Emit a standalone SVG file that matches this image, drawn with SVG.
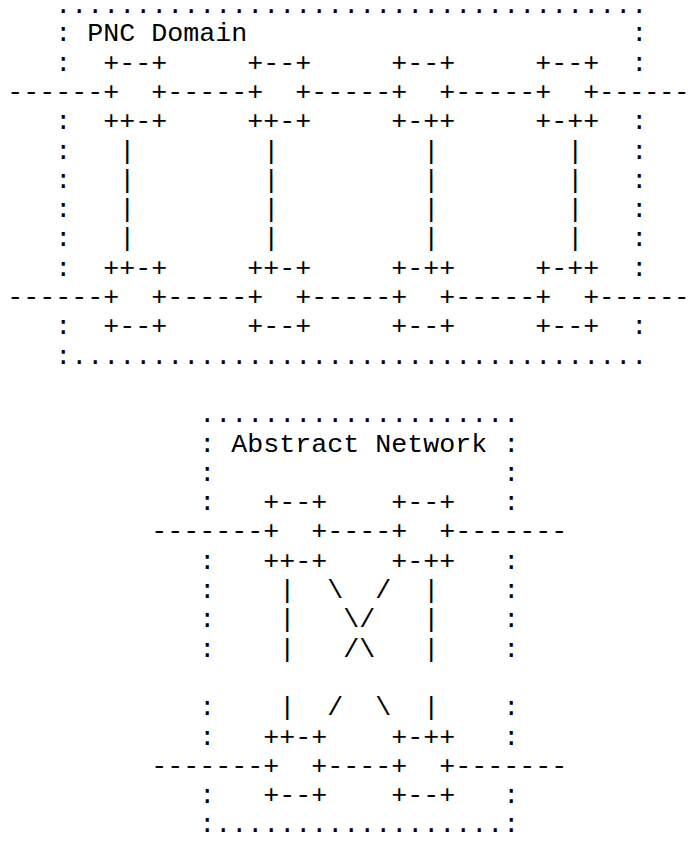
<svg xmlns="http://www.w3.org/2000/svg" width="690" height="841" viewBox="0 0 690 841">
<style>
text{font-family:"Liberation Mono","DejaVu Sans Mono",monospace;font-size:26.67px;fill:#000;white-space:pre}
</style>
<rect width="690" height="841" fill="#fff"/>
<g id="pnc-domain">
<text x="55.3" y="12.5">.....................................</text>
<text x="55.3" y="41.3">:</text><text x="87.3" y="41.3">PNC Domain</text><text x="631.3" y="41.3">:</text>
<text x="55.3" y="70.6">:</text><text x="631.3" y="70.6">:</text>
<text x="55.3" y="129.2">:</text><text x="631.3" y="129.2">:</text>
<text x="55.3" y="158.5">:</text><text x="631.3" y="158.5">:</text>
<text x="55.3" y="187.8">:</text><text x="631.3" y="187.8">:</text>
<text x="55.3" y="217.1">:</text><text x="631.3" y="217.1">:</text>
<text x="55.3" y="246.4">:</text><text x="631.3" y="246.4">:</text>
<text x="55.3" y="275.7">:</text><text x="631.3" y="275.7">:</text>
<text x="55.3" y="334.3">:</text><text x="631.3" y="334.3">:</text>
<text x="55.3" y="363.6">:....................................</text>
</g>
<g id="pnc-node-t1"><text x="103.3" y="70.6">+--+</text><text x="103.3" y="99.9">+</text><text x="151.3" y="99.9">+</text><text x="103.3" y="129.2">++-+</text></g>
<g id="pnc-node-t2"><text x="247.3" y="70.6">+--+</text><text x="247.3" y="99.9">+</text><text x="295.3" y="99.9">+</text><text x="247.3" y="129.2">++-+</text></g>
<g id="pnc-node-t3"><text x="391.3" y="70.6">+--+</text><text x="391.3" y="99.9">+</text><text x="439.3" y="99.9">+</text><text x="391.3" y="129.2">+-++</text></g>
<g id="pnc-node-t4"><text x="535.3" y="70.6">+--+</text><text x="535.3" y="99.9">+</text><text x="583.3" y="99.9">+</text><text x="535.3" y="129.2">+-++</text></g>
<g id="pnc-node-b1"><text x="103.3" y="275.7">++-+</text><text x="103.3" y="305">+</text><text x="151.3" y="305">+</text><text x="103.3" y="334.3">+--+</text></g>
<g id="pnc-node-b2"><text x="247.3" y="275.7">++-+</text><text x="247.3" y="305">+</text><text x="295.3" y="305">+</text><text x="247.3" y="334.3">+--+</text></g>
<g id="pnc-node-b3"><text x="391.3" y="275.7">+-++</text><text x="391.3" y="305">+</text><text x="439.3" y="305">+</text><text x="391.3" y="334.3">+--+</text></g>
<g id="pnc-node-b4"><text x="535.3" y="275.7">+-++</text><text x="535.3" y="305">+</text><text x="583.3" y="305">+</text><text x="535.3" y="334.3">+--+</text></g>
<g id="abstract-network">
<text x="199.3" y="422.2">....................</text>
<text x="199.3" y="451.5">:</text><text x="231.3" y="451.5">Abstract Network</text><text x="503.3" y="451.5">:</text>
<text x="199.3" y="480.8">:</text><text x="503.3" y="480.8">:</text>
<text x="199.3" y="510.1">:</text><text x="503.3" y="510.1">:</text>
<text x="199.3" y="568.7">:</text><text x="503.3" y="568.7">:</text>
<text x="199.3" y="598">:</text><text x="503.3" y="598">:</text>
<text x="199.3" y="627.3">:</text><text x="503.3" y="627.3">:</text>
<text x="199.3" y="656.6">:</text><text x="503.3" y="656.6">:</text>
<text x="199.3" y="715.2">:</text><text x="503.3" y="715.2">:</text>
<text x="199.3" y="744.5">:</text><text x="503.3" y="744.5">:</text>
<text x="199.3" y="803.1">:</text><text x="503.3" y="803.1">:</text>
<text x="199.3" y="832.4">:..................:</text>
</g>
<g id="abs-node-1"><text x="263.3" y="510.1">+--+</text><text x="263.3" y="539.4">+</text><text x="311.3" y="539.4">+</text><text x="263.3" y="568.7">++-+</text></g>
<g id="abs-node-2"><text x="391.3" y="510.1">+--+</text><text x="391.3" y="539.4">+</text><text x="439.3" y="539.4">+</text><text x="391.3" y="568.7">+-++</text></g>
<g id="abs-node-3"><text x="263.3" y="744.5">++-+</text><text x="263.3" y="773.8">+</text><text x="311.3" y="773.8">+</text><text x="263.3" y="803.1">+--+</text></g>
<g id="abs-node-4"><text x="391.3" y="744.5">+-++</text><text x="391.3" y="773.8">+</text><text x="439.3" y="773.8">+</text><text x="391.3" y="803.1">+--+</text></g>
<g id="connectors">
<text x="7.3" y="99.9">------</text><text x="167.3" y="99.9">-----</text><text x="311.3" y="99.9">-----</text><text x="455.3" y="99.9">-----</text><text x="599.3" y="99.9" textLength="90" lengthAdjust="spacingAndGlyphs">------</text>
<text x="7.3" y="305">------</text><text x="167.3" y="305">-----</text><text x="311.3" y="305">-----</text><text x="455.3" y="305">-----</text><text x="599.3" y="305" textLength="90" lengthAdjust="spacingAndGlyphs">------</text>
<text x="119.3" y="158.5">|</text><text x="119.3" y="187.8">|</text><text x="119.3" y="217.1">|</text><text x="119.3" y="246.4">|</text>
<text x="263.3" y="158.5">|</text><text x="263.3" y="187.8">|</text><text x="263.3" y="217.1">|</text><text x="263.3" y="246.4">|</text>
<text x="423.3" y="158.5">|</text><text x="423.3" y="187.8">|</text><text x="423.3" y="217.1">|</text><text x="423.3" y="246.4">|</text>
<text x="567.3" y="158.5">|</text><text x="567.3" y="187.8">|</text><text x="567.3" y="217.1">|</text><text x="567.3" y="246.4">|</text>
<text x="151.3" y="539.4">-------</text><text x="327.3" y="539.4">----</text><text x="455.3" y="539.4">-------</text>
<text x="151.3" y="773.8">-------</text><text x="327.3" y="773.8">----</text><text x="455.3" y="773.8">-------</text>
<text x="279.3" y="598">|</text><text x="279.3" y="627.3">|</text><text x="279.3" y="656.6">|</text><text x="279.3" y="715.2">|</text>
<text x="423.3" y="598">|</text><text x="423.3" y="627.3">|</text><text x="423.3" y="656.6">|</text><text x="423.3" y="715.2">|</text>
<text x="327.3" y="598">\</text><text x="375.3" y="598">/</text>
<text x="343.3" y="627.3">\</text><text x="359.3" y="627.3">/</text>
<text x="343.3" y="656.6">/</text><text x="359.3" y="656.6">\</text>
<text x="327.3" y="715.2">/</text><text x="375.3" y="715.2">\</text>
</g>
</svg>
